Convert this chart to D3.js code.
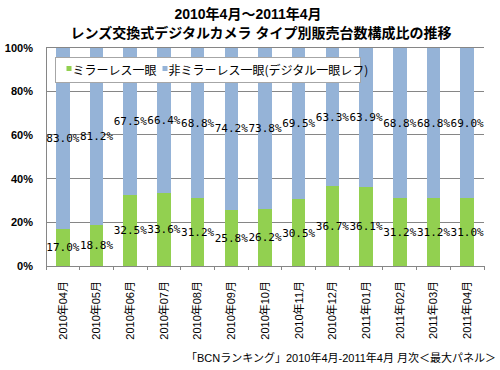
<!DOCTYPE html>
<html>
<head>
<meta charset="utf-8">
<script src="https://cdn.jsdelivr.net/npm/d3@7"></script>
<style>
  body { margin: 0; background: #fff; }
  text { font-family: "Liberation Sans", "Noto Sans CJK JP", sans-serif; }
</style>
</head>
<body>
<div id="chart"></div>
<script>
// categories (months)
const months = ["2010年04月", "2010年05月", "2010年06月", "2010年07月", "2010年08月", "2010年09月",
  "2010年10月", "2010年11月", "2010年12月", "2011年01月", "2011年02月", "2011年03月", "2011年04月"];
// series values, percent
const mirrorless = [17.0, 18.8, 32.5, 33.6, 31.2, 25.8, 26.2, 30.5, 36.7, 36.1, 31.2, 31.2, 31.0];
const dslr = [83.0, 81.2, 67.5, 66.4, 68.8, 74.2, 73.8, 69.5, 63.3, 63.9, 68.8, 68.8, 69.0];
const seriesNames = ["ミラーレス一眼", "非ミラーレス一眼(デジタル一眼レフ)"];
const yTicks = [0, 20, 40, 60, 80, 100];

const colors = ["#92d050", "#95b3d7"];
const width = 500, height = 370;
const margin = { top: 47.5, right: 16, bottom: 104, left: 46 };
const plotW = width - margin.left - margin.right,
  plotH = height - margin.top - margin.bottom;

const svg = d3.select("#chart").append("svg")
  .attr("width", width)
  .attr("height", height);

// title
svg.append("text")
  .attr("x", 248).attr("y", 19)
  .attr("text-anchor", "middle")
  .style("font-size", "14px").style("font-weight", "bold")
  .text("2010年4月～2011年4月");
svg.append("text")
  .attr("x", 261).attr("y", 38)
  .attr("text-anchor", "middle")
  .style("font-size", "14px").style("font-weight", "bold")
  .text("レンズ交換式デジタルカメラ タイプ別販売台数構成比の推移");

const g = svg.append("g")
  .attr("transform", "translate(" + margin.left + "," + margin.top + ")");

const x = d3.scaleBand()
  .domain(months)
  .range([0, plotW])
  .paddingInner(0.6)
  .paddingOuter(0.3);

const y = d3.scaleLinear()
  .domain([0, 100])
  .range([plotH, 0]);

// gridlines
g.selectAll("line.grid")
  .data(yTicks.filter(d => d > 0))
  .enter().append("line")
  .attr("class", "grid")
  .attr("x1", 0).attr("x2", plotW)
  .attr("y1", d => y(d)).attr("y2", d => y(d))
  .attr("stroke", "#868686").attr("stroke-width", 1)
  .attr("shape-rendering", "crispEdges");

// y axis
const yAxis = g.append("g")
  .call(d3.axisLeft(y).tickValues(yTicks).tickSize(0).tickPadding(13).tickFormat(d => d + "%"));
yAxis.select(".domain").attr("stroke", "#868686").attr("shape-rendering", "crispEdges");
yAxis.selectAll("text")
  .style("font-size", "11px").style("font-weight", "bold")
  .style("font-family", "'Liberation Sans', sans-serif")
  .attr("fill", "#000");

// stacked data
const stackData = months.map((m, i) => ({ month: m, a: mirrorless[i], b: dslr[i] }));
const stack = d3.stack().keys(["a", "b"])(stackData);

g.selectAll("g.series")
  .data(stack)
  .enter().append("g")
  .attr("class", "series")
  .attr("fill", (d, i) => colors[i])
  .selectAll("rect")
  .data(d => d)
  .enter().append("rect")
  .attr("x", d => x(d.data.month))
  .attr("width", x.bandwidth())
  .attr("y", d => y(d[1]))
  .attr("height", d => y(d[0]) - y(d[1]))
  .attr("shape-rendering", "crispEdges");

// x axis with tick marks between categories
g.append("line")
  .attr("x1", 0).attr("x2", plotW)
  .attr("y1", plotH).attr("y2", plotH)
  .attr("stroke", "#868686")
  .attr("shape-rendering", "crispEdges");
g.selectAll("line.xtick")
  .data(d3.range(months.length + 1))
  .enter().append("line")
  .attr("class", "xtick")
  .attr("x1", i => i * plotW / months.length)
  .attr("x2", i => i * plotW / months.length)
  .attr("y1", plotH).attr("y2", plotH + 4)
  .attr("stroke", "#868686")
  .attr("shape-rendering", "crispEdges");

// category labels, rotated
g.selectAll("text.xlabel")
  .data(months)
  .enter().append("text")
  .attr("class", "xlabel")
  .attr("transform", d => "translate(" + (x(d) + x.bandwidth() / 2) + "," + (plotH + 15) + ") rotate(-90)")
  .attr("dy", "0.35em")
  .attr("text-anchor", "end")
  .style("font-size", "11px")
  .text(d => d);

// legend (drawn over the bars)
const legend = svg.append("g").attr("transform", "translate(55.5,57.5)");
legend.append("rect")
  .attr("width", 305).attr("height", 25)
  .attr("fill", "#fff")
  .attr("stroke", "#a6a6a6");
const legendX = [11, 107];
seriesNames.forEach((name, i) => {
  legend.append("rect")
    .attr("x", legendX[i]).attr("y", 8.5)
    .attr("width", 5).attr("height", 5)
    .attr("fill", colors[i]);
  legend.append("text")
    .attr("x", legendX[i] + 6).attr("y", 17)
    .style("font-size", "12px")
    .style("font-family", "'Noto Sans CJK JP', sans-serif")
    .text(name);
});

// data labels, centred in each segment
g.selectAll("g.labels")
  .data(stack)
  .enter().append("g")
  .attr("class", "labels")
  .selectAll("text")
  .data(d => d)
  .enter().append("text")
  .attr("x", d => x(d.data.month) + x.bandwidth() / 2)
  .attr("y", d => (y(d[0]) + y(d[1])) / 2)
  .attr("dy", "0.35em")
  .attr("text-anchor", "middle")
  .style("font-size", "11px")
  .style("font-family", "'DejaVu Sans Mono', monospace")
  .text(d => (d[1] - d[0]).toFixed(1) + "%");

// source note
svg.append("text")
  .attr("x", 496).attr("y", 362)
  .attr("text-anchor", "end")
  .style("font-size", "11px")
  .text("「BCNランキング」2010年4月-2011年4月 月次＜最大パネル＞");
</script>
</body>
</html>
